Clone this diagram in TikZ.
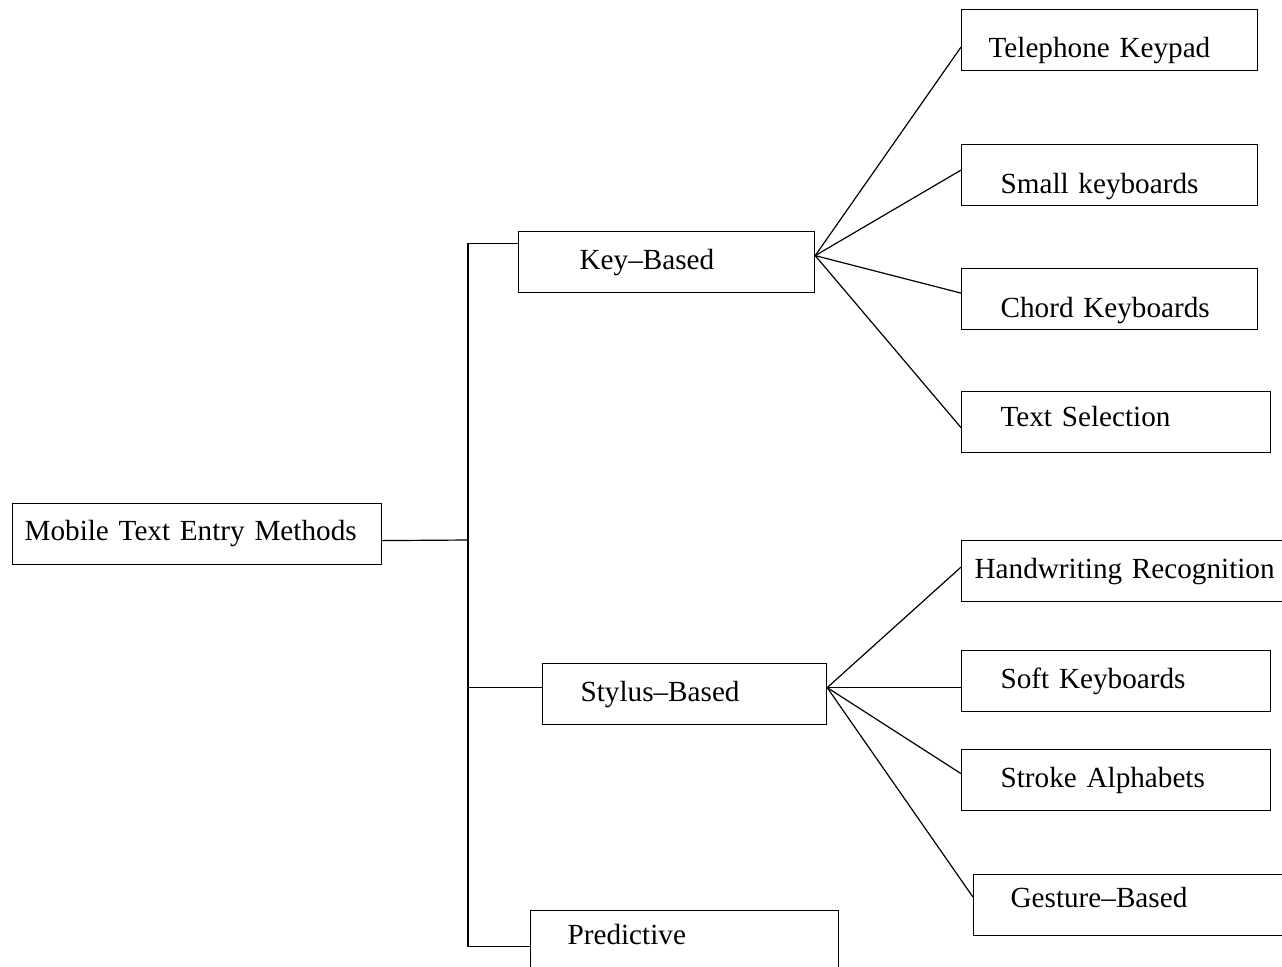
\documentclass[tikz,border=0pt]{standalone}
\usepackage{fontspec}
\setmainfont{Liberation Serif}
\usepackage{tikz}
\usetikzlibrary{shapes,arrows,positioning,calc}

\begin{document}
\begin{tikzpicture}[x=0.5pt, y=-0.5pt, line width=0.6pt,
    method block/.style 2 args={draw, rectangle, anchor=north west, minimum height=30.5pt, inner ysep=0pt, inner xsep=#1, text width=#2, align=left, text height=11pt, text depth=3.5pt, font=\fontsize{14.6}{17.5}\selectfont}]
    \useasboundingbox (0,0) rectangle (1282,966);
    \clip (0,0) rectangle (1282,966);

    \node[method block={6pt}{172.5pt}, text depth=5pt] (root) at (12,503) {Mobile Text Entry Methods};
    \node[method block={30.5pt}{87pt}] (key) at (518,231) {Key--Based};
    \node[method block={19pt}{104pt}] (stylus) at (542,663) {Stylus--Based};
    \node[method block={18.5pt}{117pt}, text depth=7.5pt] (pred) at (530,910) {Predictive};

    % key-based leaves
    \node[method block={13.5pt}{121pt}, text height=21pt] (phone) at (961,9) {Telephone Keypad};
    \node[method block={19.5pt}{109pt}, text height=22pt] (small) at (961,144) {Small keyboards};
    \node[method block={19.5pt}{109pt}, text height=22pt] (chord) at (961,268) {Chord Keyboards};
    \node[method block={19.5pt}{115.5pt}, text depth=6.5pt] (select) at (961,391) {Text Selection};

    % stylus-based leaves
    \node[method block={6.5pt}{157pt}] (hand) at (961,540) {Handwriting Recognition};
    \node[method block={19.5pt}{115.5pt}] (soft) at (961,650) {Soft Keyboards};
    \node[method block={19.5pt}{115.5pt}] (stroke) at (961,749) {Stroke Alphabets};
    \node[method block={18.5pt}{117.5pt}, text depth=8.5pt] (gesture) at (973,874) {Gesture--Based};

    \coordinate (trunk) at (468,540);
    \draw ([yshift=-3.25pt]root.east) -- (trunk);
    \draw ([yshift=9.25pt]key.west) -- ([yshift=9.25pt]key.west -| trunk) -- ([yshift=-2.75pt]pred.west -| trunk) -- ([yshift=-2.75pt]pred.west);
    \draw ([yshift=3.25pt]stylus.west) -- ([yshift=3.25pt]stylus.west -| trunk);

    \draw ([yshift=3.25pt]key.east) -- ([yshift=-3.5pt]phone.west);
    \draw ([yshift=3.25pt]key.east) -- ([yshift=2.5pt]small.west);
    \draw ([yshift=3.25pt]key.east) -- ([yshift=3pt]chord.west);
    \draw ([yshift=3.25pt]key.east) -- ([yshift=-2.75pt]select.west);

    \draw ([yshift=3.25pt]stylus.east) -- ([yshift=2pt]hand.west);
    \draw ([yshift=3.25pt]stylus.east) -- ([yshift=-3.25pt]soft.west);
    \draw ([yshift=3.25pt]stylus.east) -- ([yshift=3.25pt]stroke.west);
    \draw ([yshift=3.25pt]stylus.east) -- ([yshift=4pt]gesture.west);
\end{tikzpicture}
\end{document}
